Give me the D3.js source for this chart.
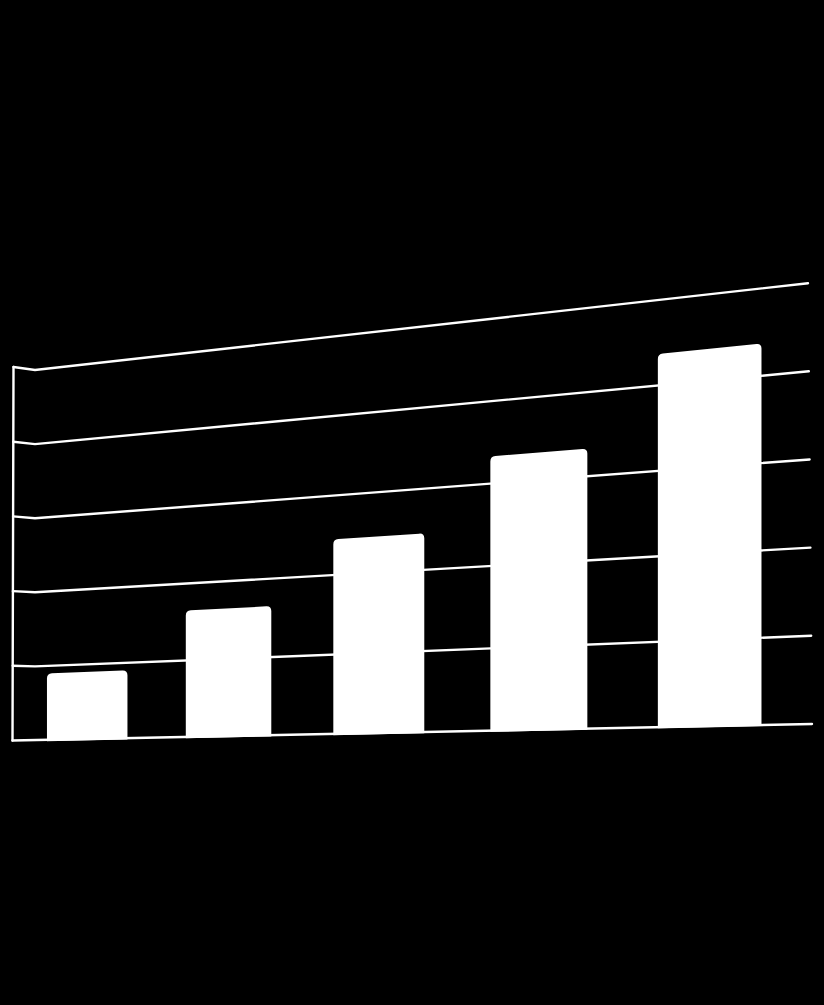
<!DOCTYPE html>
<html>
<head>
<meta charset="utf-8">
<script src="https://cdn.jsdelivr.net/npm/d3@7"></script>
<style>
  html, body { margin: 0; padding: 0; background: #000; }
  svg { display: block; }
  .grid { stroke: #fff; stroke-width: 2.4; fill: none; stroke-linecap: round; }
  .bar { fill: #fff; }
</style>
</head>
<body>
<svg id="chart" width="824" height="1005"></svg>
<script>
// Data
const categories = ["1", "2", "3", "4", "5"];
const values = [0.90, 1.65, 2.45, 3.33, 4.37];
const gridTicks = [0, 1, 2, 3, 4, 5];

(function () {
    const svg = d3.select("#chart");
    svg.append("rect").attr("width", 824).attr("height", 1005).attr("fill", "#000");

    // floor plane runs from x=35 (far, left) to x=810 (near, right)
    const planeLeft = 35;
    const planeRight = 810;
    const depth = 0.145; // perspective strength along x

    // value scales at the far (left) and near (right) edge of the back wall
    const yLeft = d3.scaleLinear().domain([0, 5]).range([740.5, 370]);
    const yRight = d3.scaleLinear().domain([0, 5]).range([724, 283]);
    // side wall at the left
    const yWall = d3.scaleLinear().domain([0, 5]).range([740.5, 367]);
    const xWall = d3.scaleLinear().domain([0, 5]).range([12.5, 13.5]);
    // right ends of the grid lines lean slightly
    const xEnd = d3.scaleLinear().domain([0, 5]).range([812, 808]);

    // y of value v at screen x (straight lines between the two edges)
    function Y(x, v) {
        const t = (x - planeLeft) / (planeRight - planeLeft);
        return yLeft(v) + (yRight(v) - yLeft(v)) * t;
    }

    // categories placed in flat space [0,1], then warped with perspective
    const band = d3.scaleBand()
        .domain(categories)
        .range([0, 1])
        .paddingInner(0.413)
        .paddingOuter(0.178)
        .align(0.25);

    function warp(u) {
        const A = (planeRight - planeLeft) * (1 - depth);
        return planeLeft + A * u / (1 - depth * u);
    }

    const g = svg.append("g");

    // Grid lines with their short tick on the side wall
    g.selectAll(".grid")
        .data(gridTicks)
        .join("path")
        .attr("class", "grid")
        .attr("d", d => {
            const xe = xEnd(d);
            if (d === 0) {
                return `M${xWall(d)},${yWall(d)} L${xe},${Y(xe, d)}`;
            }
            return `M${xWall(d)},${yWall(d)} L${planeLeft},${yLeft(d)} L${xe},${Y(xe, d)}`;
        });

    // side wall vertical
    g.append("path")
        .attr("class", "grid")
        .attr("d", `M${xWall(5)},${yWall(5)} L${xWall(0)},${yWall(0)}`);

    // Bars
    const r = 5;
    g.selectAll(".bar")
        .data(categories.map((c, i) => ({ c, v: values[i] })))
        .join("path")
        .attr("class", "bar")
        .attr("d", d => {
            const u0 = band(d.c);
            const x0 = warp(u0);
            const x1 = warp(u0 + band.bandwidth());
            const yt0 = Y(x0, d.v), yt1 = Y(x1, d.v);
            const yb0 = Y(x0, 0) + 1, yb1 = Y(x1, 0) + 1;
            const k = (yt1 - yt0) / (x1 - x0);
            return `M${x0},${yb0} V${yt0 + r} Q${x0},${yt0} ${x0 + r},${yt0 + k * r}` +
                   ` L${x1 - r},${yt1 - k * r} Q${x1},${yt1} ${x1},${yt1 + r} V${yb1} Z`;
        });
})();
</script>
</body>
</html>
